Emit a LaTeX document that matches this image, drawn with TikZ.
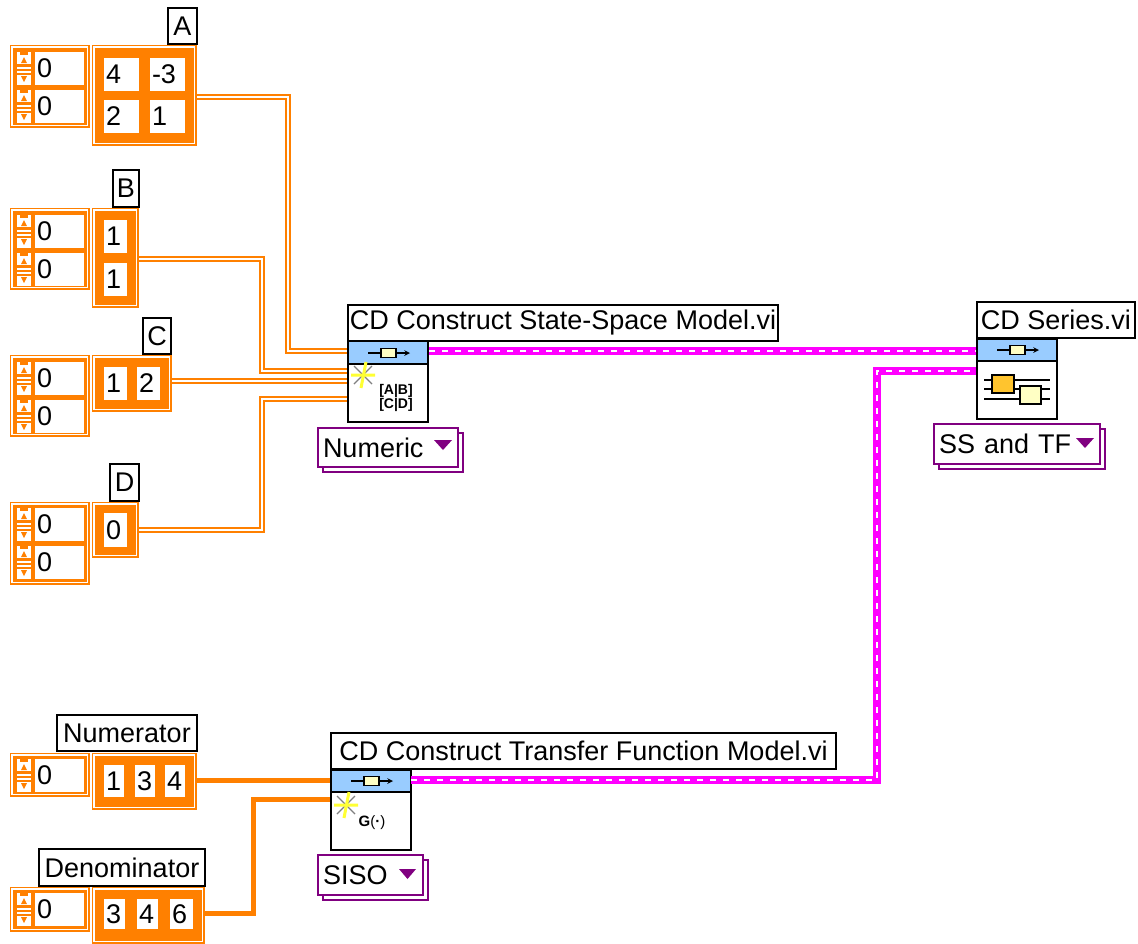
\documentclass[tikz,border=0pt]{standalone}
\usepackage{fontspec}
\setmainfont{Liberation Sans}
\usetikzlibrary{shadows}
\definecolor{wireorange}{HTML}{FF8000}
\definecolor{wirepink}{HTML}{FF00FF}
\definecolor{menupurple}{HTML}{800080}
\definecolor{bandblue}{HTML}{99CCFF}
\definecolor{blockcream}{HTML}{FFFFC4}
\definecolor{blockorange}{HTML}{FFC42E}
\definecolor{sparkyellow}{HTML}{FFFF33}
\tikzset{
  every node/.style={font=\fontsize{27}{30}\selectfont,outer sep=0pt,anchor=north west},
  boxed/.style 2 args={minimum width=#1pt,minimum height=#2pt,inner sep=0pt},
  namebox/.style 2 args={boxed={#1}{#2},draw=black,line width=2.5pt,fill=white},
  framebox/.style 2 args={boxed={#1-4.5}{#2-4.5},fill=wireorange,draw=wireorange,line width=1.4pt,double=white,double distance=1.6pt},
  cell/.style 2 args={fill=white,minimum height=#2pt,inner sep=0pt,inner xsep=2pt,text width={#1pt-4pt}},
  iconbox/.style 2 args={boxed={#1}{#2},draw=black,line width=2.5pt,fill=white},
  bandbox/.style 2 args={boxed={#1}{#2},draw=black,line width=2.5pt,fill=bandblue},
  menubox/.style 2 args={minimum height=#2pt,inner sep=0pt,inner xsep=5pt,text width={#1pt-10pt},draw=menupurple,line width=2pt,fill=white,copy shadow={shadow xshift=5pt,shadow yshift=-5pt}},
  arraywire/.style={draw=wireorange,line width=1.9pt,double=white,double distance=1.9pt},
  scalarwire/.style={draw=wireorange,line width=5pt},
  modelwire/.style={draw=wirepink,line width=8pt,postaction={draw=white,line width=2.4pt,dash pattern=on 6pt off 7pt}},
  spinner/.pic={
    \fill[white] (0,0) rectangle (14,12);
    \fill[wireorange] (3,0) -- (11,0) -- (11,3) -- (3,3) -- cycle;
    \fill[wireorange] (4,11) -- (10,11) -- (7,5) -- cycle;
    \fill[white] (0,15) rectangle (14,17);
    \fill[white] (0,19) rectangle (14,21);
    \fill[white] (0,23) rectangle (14,33);
    \fill[wireorange] (4,24) -- (10,24) -- (7,30) -- cycle;
  },
  runglyph/.pic={
    \draw[black,line width=1.5pt,-stealth] (0,0) -- (42,0);
    \fill[blockcream,draw=black,line width=1.5pt] (13,-4.5) rectangle (28,4.5);
  },
  sparkle/.pic={
    \draw[gray,line width=1.3pt] (-9,-9) -- (9,9) (-9,9) -- (9,-9);
    \draw[sparkyellow,line width=3pt] (-12,0) -- (12,0) (3,-13) -- (-2,13);
  }
}
\begin{document}
\begin{tikzpicture}[x=1pt,y=-1pt]
  \useasboundingbox (0,0) rectangle (1138,943);
  \fill[white] (0,0) rectangle (1138,943);

  % A
  \node[framebox={80}{83}] (indexA) at (12,47) {};
  \node[cell={49}{33}] (indexAa) at (35,52) {0};
  \node[cell={49}{33}] (indexAb) at (35,90) {0};
  \pic at (17,52) {spinner};
  \pic at (17,90) {spinner};
  \node[framebox={105}{101}] (arrayA) at (94,47) {};
  \node[cell={35}{33}] (cellAa) at (104,58) {4};
  \node[cell={35}{33}] (cellAb) at (150,58) {-3};
  \node[cell={35}{33}] (cellAc) at (104,100) {2};
  \node[cell={35}{33}] (cellAd) at (150,100) {1};
  \node[namebox={29}{36},align=center] (nameA) at (168,8) {A};

  % B
  \node[framebox={80}{82}] (indexB) at (12,210) {};
  \node[cell={49}{33}] (indexBa) at (35,215) {0};
  \node[cell={49}{33}] (indexBb) at (35,253) {0};
  \pic at (17,215) {spinner};
  \pic at (17,253) {spinner};
  \node[framebox={47}{100}] (arrayB) at (94,210) {};
  \node[cell={23}{33}] (cellBa) at (104,220) {1};
  \node[cell={23}{33}] (cellBb) at (104,263) {1};
  \node[namebox={26}{37}] (nameB) at (113,170) {B};

  % C
  \node[framebox={80}{82}] (indexC) at (12,357) {};
  \node[cell={49}{33}] (indexCa) at (35,362) {0};
  \node[cell={49}{33}] (indexCb) at (35,400) {0};
  \pic at (17,362) {spinner};
  \pic at (17,400) {spinner};
  \node[framebox={80}{57}] (arrayC) at (94,357) {};
  \node[cell={23}{33}] (cellCa) at (104,367) {1};
  \node[cell={23}{33}] (cellCb) at (137,367) {2};
  \node[namebox={28}{36}] (nameC) at (143,318) {C};

  % D
  \node[framebox={80}{83}] (indexD) at (12,504) {};
  \node[cell={49}{33}] (indexDa) at (35,508) {0};
  \node[cell={49}{33}] (indexDb) at (35,546) {0};
  \pic at (17,508) {spinner};
  \pic at (17,546) {spinner};
  \node[framebox={47}{56}] (arrayD) at (94,504) {};
  \node[cell={23}{34}] (cellDa) at (104,513) {0};
  \node[namebox={29}{37}] (nameD) at (110,464) {D};

  % Numerator, Denominator
  \node[framebox={80}{44}] (indexN) at (12,755) {};
  \node[cell={49}{33}] (indexNa) at (35,759) {0};
  \pic at (17,759) {spinner};
  \node[framebox={105}{57}] (arrayN) at (94,755) {};
  \node[cell={20}{32}] (cellNa) at (104,765) {1};
  \node[cell={20}{32}] (cellNb) at (135,765) {3};
  \node[cell={20}{32}] (cellNc) at (165,765) {4};
  \node[namebox={140}{36}] (nameN) at (57,715) {Numerator};

  \node[framebox={80}{45}] (indexM) at (12,889) {};
  \node[cell={49}{33}] (indexMa) at (35,893) {0};
  \pic at (17,893) {spinner};
  \node[framebox={113}{57}] (arrayM) at (94,889) {};
  \node[cell={21}{30}] (cellMa) at (104,899) {3};
  \node[cell={21}{30}] (cellMb) at (137,899) {4};
  \node[cell={23}{30}] (cellMc) at (170,899) {6};
  \node[namebox={166}{37}] (nameM) at (39,849) {Denominator};

  % state space vi
  \node[iconbox={80}{81}] (ssicon) at (348,341) {};
  \node[bandbox={80}{23}] (ssband) at (348,341) {};
  \node[namebox={430}{36}] (ssname) at (348,305) {CD Construct State-Space Model.vi};
  \pic at (368,353) {runglyph};
  \pic at (363,375) {sparkle};
  \node[font=\fontsize{14}{15}\selectfont\bfseries,align=center,anchor=center] (ssmatrix) at (396,398) {[A|B]\\[-1pt][C|D]};
  \node[menubox={140}{39}] (ssmenu) at (318,428) {Numeric};
  \fill[menupurple] (434,440) -- (452,440) -- (443,450) -- cycle;

  % transfer function vi
  \node[iconbox={80}{80}] (tficon) at (331,770) {};
  \node[bandbox={80}{22}] (tfband) at (331,770) {};
  \node[namebox={505}{36}] (tfname) at (331,733) {CD Construct Transfer Function Model.vi};
  \pic at (351,781) {runglyph};
  \pic at (346,805) {sparkle};
  \node[font=\fontsize{15}{16}\selectfont,anchor=center] (tfglyph) at (372,823) {\textbf{G}(\textbf{·})};
  \node[menubox={105}{40}] (tfmenu) at (318,855) {SISO};
  \fill[menupurple] (399,869) -- (416,869) -- (407.5,879) -- cycle;

  % series vi
  \node[iconbox={80}{80}] (seicon) at (977,339) {};
  \node[bandbox={80}{22}] (seband) at (977,339) {};
  \node[namebox={158}{36}] (sename) at (977,302) {CD Series.vi};
  \pic at (997,350) {runglyph};
  \draw[black,line width=1.5pt] (984,380) -- (1050,380) (984,389) -- (1050,389) (984,399) -- (1050,399);
  \node[boxed={22}{18},draw=black,line width=1.5pt,fill=blockorange] (seblocka) at (992,375) {};
  \node[boxed={21}{18},draw=black,line width=1.5pt,fill=blockcream] (seblockb) at (1020,386) {};
  \node[menubox={166}{40}] (semenu) at (934,424) {SS and TF};
  \fill[menupurple] (1076,438) -- (1094,438) -- (1085,448) -- cycle;

  % wires
  \coordinate (outA) at (197,97);
  \coordinate (outB) at (139,259);
  \coordinate (outC) at (172,381);
  \coordinate (outD) at (139,530);
  \coordinate (outN) at (197,780);
  \coordinate (outM) at (205,913);
  \coordinate (inA) at (347,351);
  \coordinate (inB) at (347,371);
  \coordinate (inC) at (347,381);
  \coordinate (inD) at (347,399);
  \coordinate (inN) at (330,780);
  \coordinate (inM) at (330,799);
  \coordinate (ssout) at (429,351);
  \coordinate (tfout) at (411,780);
  \coordinate (seina) at (976,351);
  \coordinate (seinb) at (976,371);

  \draw[arraywire] (outA) -- ++(91,0) |- (inA);
  \draw[arraywire] (outB) -- ++(123,0) |- (inB);
  \draw[arraywire] (outC) -- (inC);
  \draw[arraywire] (outD) -- ++(123,0) |- (inD);
  \draw[scalarwire] (outN) -- (inN);
  \draw[scalarwire] (outM) -- ++(48,0) |- (inM);
  \draw[modelwire] (ssout) -- (seina);
  \draw[modelwire] (tfout) -- ++(466,0) |- (seinb);
\end{tikzpicture}
\end{document}
